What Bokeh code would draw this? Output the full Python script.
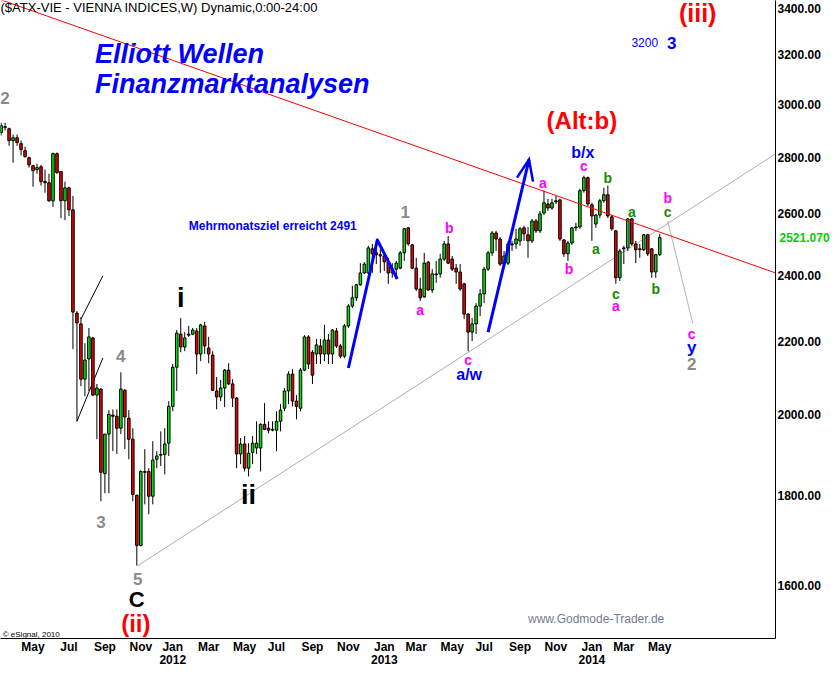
from bokeh.plotting import figure
from bokeh.models import Range1d, FixedTicker, PrintfTickFormatter, Label, LogAxis
from bokeh.embed import file_html
from bokeh.resources import INLINE

# ---------------- weekly OHLC of the ATX (bar 0 = week of 2011-03-07) ----------------
opens = [2891, 2910, 2906, 2861, 2872, 2850, 2824, 2798, 2769, 2755,
         2765, 2712, 2708, 2645, 2813, 2748, 2645, 2690, 2614, 2284,
         2252, 2095, 2151, 2211, 2052, 2068, 1852, 1950, 1999, 1996,
         1965, 2065, 1991, 1937, 1800, 1686, 1855, 1857, 1798, 1887,
         1897, 1899, 1927, 2022, 2128, 2222, 2185, 2219, 2222, 2231,
         2165, 2246, 2182, 2162, 2063, 2047, 2071, 2120, 2082, 2044,
         1900, 1925, 1865, 1904, 1915, 1915, 1975, 1965, 1960, 1960,
         1983, 2017, 2063, 2109, 2036, 2017, 2120, 2214, 2170, 2165,
         2188, 2165, 2205, 2165, 2231, 2188, 2159, 2246, 2305, 2330,
         2370, 2407, 2407, 2484, 2471, 2465, 2461, 2442, 2407, 2419,
         2422, 2471, 2553, 2497, 2422, 2357, 2333, 2441, 2354, 2401,
         2404, 2451, 2500, 2451, 2422, 2410, 2373, 2281, 2228, 2252,
         2305, 2342, 2419, 2471, 2536, 2516, 2435, 2438, 2497, 2500,
         2510, 2553, 2530, 2510, 2576, 2543, 2603, 2634, 2620, 2641,
         2648, 2513, 2468, 2503, 2553, 2556, 2680, 2726, 2631, 2566,
         2596, 2645, 2666, 2590, 2543, 2392, 2484, 2487, 2583, 2500,
         2484, 2481, 2530, 2484, 2410, 2465]
highs = [2929, 2929, 2910, 2884, 2884, 2861, 2839, 2802, 2772, 2776,
         2772, 2755, 2740, 2817, 2817, 2748, 2712, 2694, 2662, 2290,
         2272, 2196, 2240, 2214, 2082, 2071, 1950, 2012, 2014, 2014,
         2114, 2068, 2012, 1965, 1802, 1860, 1912, 1865, 1932, 1907,
         1957, 1965, 2036, 2137, 2234, 2269, 2228, 2246, 2240, 2240,
         2252, 2258, 2214, 2173, 2101, 2093, 2123, 2139, 2095, 2047,
         1940, 1945, 1927, 1945, 1983, 1978, 2031, 1983, 1983, 2009,
         2028, 2071, 2117, 2123, 2052, 2126, 2219, 2219, 2176, 2208,
         2208, 2249, 2222, 2237, 2240, 2194, 2252, 2311, 2367, 2373,
         2438, 2441, 2494, 2500, 2500, 2484, 2471, 2455, 2438, 2445,
         2477, 2553, 2556, 2500, 2455, 2392, 2471, 2445, 2419, 2445,
         2468, 2510, 2526, 2461, 2435, 2435, 2376, 2284, 2269, 2314,
         2357, 2426, 2477, 2543, 2543, 2523, 2477, 2510, 2510, 2550,
         2556, 2560, 2556, 2583, 2583, 2610, 2680, 2652, 2652, 2662,
         2652, 2516, 2510, 2556, 2570, 2687, 2733, 2730, 2638, 2600,
         2652, 2690, 2698, 2596, 2546, 2484, 2494, 2586, 2586, 2510,
         2500, 2533, 2533, 2487, 2468, 2533]
lows = [2880, 2899, 2842, 2780, 2842, 2806, 2798, 2762, 2694, 2740,
        2698, 2673, 2641, 2624, 2740, 2586, 2579, 2593, 2179, 1983,
        2076, 2049, 2063, 2049, 1937, 1786, 1805, 1805, 1907, 1900,
        1950, 1912, 1887, 1786, 1642, 1684, 1779, 1756, 1779, 1865,
        1870, 1850, 1895, 2009, 2063, 2170, 2173, 2214, 2219, 2109,
        2145, 2165, 2139, 2063, 2014, 2036, 2020, 2079, 2020, 1865,
        1875, 1857, 1845, 1875, 1900, 1857, 1960, 1952, 1957, 1907,
        1957, 2009, 2028, 2022, 1988, 2009, 2117, 2123, 2082, 2137,
        2137, 2145, 2137, 2137, 2182, 2153, 2153, 2240, 2299, 2320,
        2367, 2404, 2404, 2407, 2435, 2407, 2413, 2373, 2392, 2388,
        2419, 2445, 2494, 2419, 2351, 2320, 2330, 2351, 2345, 2376,
        2392, 2445, 2435, 2413, 2373, 2351, 2266, 2173, 2202, 2222,
        2275, 2314, 2413, 2461, 2477, 2429, 2426, 2432, 2477, 2484,
        2494, 2510, 2455, 2503, 2536, 2536, 2596, 2610, 2614, 2634,
        2510, 2458, 2445, 2497, 2543, 2550, 2673, 2627, 2510, 2553,
        2586, 2638, 2586, 2543, 2373, 2382, 2435, 2477, 2494, 2438,
        2455, 2477, 2461, 2392, 2392, 2461]
closes = [2918, 2914, 2861, 2872, 2854, 2828, 2802, 2772, 2751, 2762,
          2712, 2708, 2645, 2813, 2744, 2645, 2690, 2614, 2287, 2255,
          2095, 2148, 2214, 2052, 2071, 1855, 1950, 2001, 1996, 1965,
          2068, 1994, 1937, 1802, 1686, 1857, 1857, 1798, 1885, 1895,
          1899, 1925, 2022, 2128, 2225, 2185, 2211, 2222, 2234, 2165,
          2249, 2188, 2165, 2065, 2047, 2071, 2120, 2082, 2044, 1900,
          1925, 1865, 1902, 1927, 1927, 1975, 1962, 1960, 1962, 1983,
          2012, 2063, 2109, 2036, 2022, 2120, 2214, 2137, 2106, 2191,
          2165, 2205, 2165, 2234, 2188, 2159, 2246, 2305, 2330, 2370,
          2407, 2435, 2487, 2468, 2465, 2461, 2442, 2407, 2419, 2438,
          2471, 2550, 2500, 2422, 2357, 2330, 2438, 2354, 2404, 2404,
          2451, 2500, 2438, 2419, 2410, 2357, 2281, 2228, 2252, 2305,
          2342, 2419, 2471, 2536, 2516, 2435, 2461, 2500, 2500, 2516,
          2550, 2533, 2510, 2576, 2543, 2600, 2638, 2620, 2638, 2645,
          2516, 2468, 2503, 2553, 2556, 2680, 2726, 2634, 2593, 2596,
          2645, 2666, 2593, 2550, 2392, 2477, 2487, 2583, 2500, 2481,
          2481, 2530, 2468, 2410, 2465, 2521.07]

# axis ticks (bar index of first week in month)
month_ticks = [8, 17, 26, 35, 43, 52, 61, 69, 78, 87, 96, 104, 113, 121, 130, 139, 148, 156, 165]
month_labels = ["May", "Jul", "Sep", "Nov", "Jan\n2012", "Mar", "May", "Jul", "Sep", "Nov",
                "Jan\n2013", "Mar", "May", "Jul", "Sep", "Nov", "Jan\n2014", "Mar", "May"]
price_ticks = [1600, 1800, 2000, 2200, 2400, 2600, 2800, 3000, 3200, 3400]
last_price = 2521.07

# drawn lines (bar index, price)
X_END = 194
red_trend_x = [-0.15, X_END]
red_trend_y = [3440, 2407]
support_x = [34.25, X_END]
support_y = [1642, 2812]
proj_x = [167, 173.25]
proj_y = [2576, 2254]
chan1_x = [20, 25.5]
chan1_y = [2266, 2398]
chan2_x = [19, 25.5]
chan2_y = [1983, 2154]
arrow1_x = [87, 94.25, 99.25]
arrow1_y = [2126, 2513, 2388]
arrow2_x = [122, 132.25]
arrow2_y = [2228, 2791]
arrow2_head_x = [129.25, 132.25, 133.25]
arrow2_head_y = [2726, 2791, 2712]

FONT = "Liberation Sans"
GREEN_C = "#00e600"
RED_C = "#f00000"

p = figure(width=832, height=669, x_range=Range1d(-0.15, X_END), y_range=Range1d(1493, 3436),
           y_axis_type="log", y_axis_location="right", output_backend="svg",
           toolbar_location=None, min_border_left=0, min_border_right=0,
           min_border_top=0, min_border_bottom=0)
p.background_fill_color = "white"
p.border_fill_color = "white"
p.outline_line_color = None
p.grid.visible = False

for ax in (p.xaxis[0], p.yaxis[0]):
    ax.axis_line_color = "black"
    ax.axis_line_width = 1
    ax.major_tick_out = 0
    ax.major_tick_in = 0
    ax.minor_tick_out = 0
    ax.minor_tick_in = 0
    ax.major_label_text_font = FONT
    ax.major_label_text_font_style = "bold"
    ax.major_label_text_font_size = "12px"
    ax.major_label_text_color = "black"
    ax.major_label_standoff = 2

p.xaxis.major_label_standoff = 1
p.xaxis.major_label_text_line_height = 0.95
p.yaxis.ticker = FixedTicker(ticks=price_ticks)
p.yaxis.formatter = PrintfTickFormatter(format="%.2f")
p.xaxis.ticker = FixedTicker(ticks=month_ticks)
p.xaxis.major_label_overrides = {t: l for t, l in zip(month_ticks, month_labels)}

# last-price tag: a second price axis whose single label is pulled back next to the frame
tag_axis = LogAxis(ticker=FixedTicker(ticks=[last_price]),
                   formatter=PrintfTickFormatter(format="%.3f"))
tag_axis.axis_line_color = None
tag_axis.major_tick_out = 0
tag_axis.major_tick_in = 0
tag_axis.minor_tick_out = 0
tag_axis.minor_tick_in = 0
tag_axis.major_label_text_font = FONT
tag_axis.major_label_text_font_style = "bold"
tag_axis.major_label_text_font_size = "12px"
tag_axis.major_label_standoff = -44
if hasattr(tag_axis, "major_label_background_fill_color"):
    tag_axis.major_label_background_fill_color = "#00ff00"
    tag_axis.major_label_text_color = "white"
else:
    tag_axis.major_label_text_color = "#00d000"
p.add_layout(tag_axis, "right")

# lines behind candles
p.line(support_x, support_y, line_color="#b8a8b8", line_width=1)
p.line(proj_x, proj_y, line_color="#a8b8a8", line_width=1)
p.line(chan1_x, chan1_y, line_color="black", line_width=1)
p.line(chan2_x, chan2_y, line_color="black", line_width=1)

# candles
idx = list(range(len(closes)))
p.segment(idx, lows, idx, highs, line_color="black", line_width=1)
up = [i for i in idx if closes[i] >= opens[i]]
dn = [i for i in idx if closes[i] < opens[i]]
p.vbar(x=up, width=0.64, top=[closes[i] for i in up], bottom=[opens[i] for i in up],
       fill_color=GREEN_C, line_color="black", line_width=1)
p.vbar(x=dn, width=0.64, top=[opens[i] for i in dn], bottom=[closes[i] for i in dn],
       fill_color=RED_C, line_color="black", line_width=1)

p.line(red_trend_x, red_trend_y, line_color="#ff0000", line_width=1)
p.line(arrow1_x, arrow1_y, line_color="#0000ff", line_width=3, line_join="round")
p.line(arrow2_x, arrow2_y, line_color="#0000ff", line_width=3)
p.line(arrow2_head_x, arrow2_head_y, line_color="#0000ff", line_width=2.5, line_join="miter")


def lab(x, y, text, color, size, style="bold", align="center"):
    p.add_layout(Label(x=x, y=y, text=text, text_color=color, text_font=FONT,
                       text_font_size=f"{size}px", text_font_style=style,
                       text_align=align, text_baseline="middle"))


BLUE, MAG, DGREEN, GRAY, RED = "#0000ff", "#ff00ff", "#1a8a00", "#8a8a8a", "#ff0000"

lab(-0.15, 3405, "($ATX-VIE - VIENNA INDICES,W) Dynamic,0:00-24:00", "black", 13, "normal", "left")
lab(23.5, 3206, "Elliott Wellen", BLUE, 27, "bold italic", "left")
lab(23.5, 3079, "Finanzmarktanalysen", BLUE, 27, "bold italic", "left")
lab(1, 3027, "2", GRAY, 17)
lab(174.5, 3380, "(iii)", RED, 25)
lab(161.25, 3252, "3200", BLUE, 12, "normal")
lab(168, 3252, "3", BLUE, 17)
lab(145.5, 2937, "(Alt:b)", RED, 24)
lab(145.75, 2817, "b/x", BLUE, 16)
lab(146, 2769, "c", MAG, 14)
lab(152, 2726, "b", DGREEN, 14)
lab(135.75, 2708, "a", MAG, 14)
lab(158, 2607, "a", DGREEN, 14)
lab(167, 2655, "b", MAG, 14)
lab(167, 2607, "c", DGREEN, 14)
lab(149, 2484, "a", DGREEN, 14)
lab(142.25, 2419, "b", MAG, 14)
lab(154, 2342, "c", DGREEN, 14)
lab(154, 2305, "a", MAG, 14)
lab(164, 2357, "b", DGREEN, 14)
lab(173, 2222, "c", MAG, 14)
lab(173, 2185, "y", BLUE, 17)
lab(173, 2137, "2", GRAY, 17)
lab(101.25, 2607, "1", GRAY, 17)
lab(112.25, 2553, "b", MAG, 14)
lab(105, 2293, "a", MAG, 14)
lab(117, 2148, "c", MAG, 14)
lab(117.25, 2109, "a/w", BLUE, 16)
lab(47, 2560, "Mehrmonatsziel erreicht 2491", BLUE, 12, "bold", "left")
lab(45, 2330, "i", "black", 27)
lab(62, 1802, "ii", "black", 27)
lab(30, 2159, "4", GRAY, 17)
lab(25, 1738, "3", GRAY, 17)
lab(34.25, 1613, "5", GRAY, 17)
lab(34, 1571, "C", "black", 22)
lab(33.75, 1522, "(ii)", RED, 24)
lab(132, 1532, "www.Godmode-Trader.de", "#737d92", 12, "normal", "left")
lab(0.4, 1500, "\u00a9 eSignal, 2010", "black", 8, "normal", "left")

open("out.html", "w", encoding="utf-8").write(file_html(p, INLINE))
